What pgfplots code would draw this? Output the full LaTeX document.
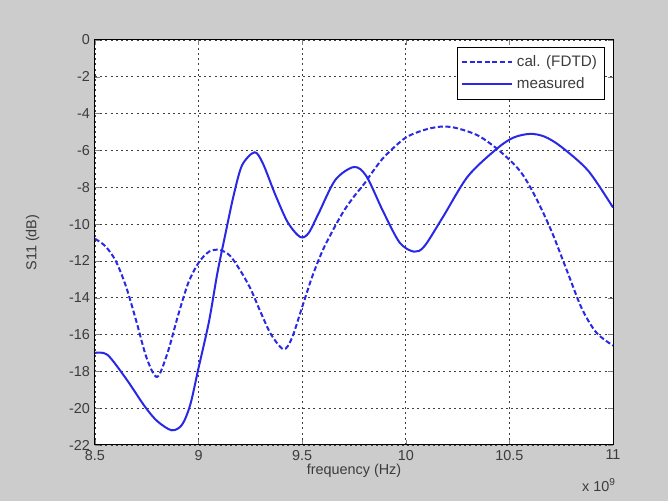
\documentclass[border=0pt]{standalone}
\usepackage{pgfplots}
\pgfplotsset{compat=1.18}
\usepackage{fontspec}
\setmainfont{Liberation Sans}
\definecolor{figbg}{RGB}{204,204,204}
\definecolor{ticktxt}{RGB}{60,60,60}
\definecolor{mblue}{RGB}{40,40,230}

\begin{document}
\begin{tikzpicture}
% grey figure background, 1px = 0.5pt
\fill[figbg] (-47.5pt,-28pt) rectangle (286.5pt,222.5pt);
\begin{axis}[
    at={(0pt,0pt)}, anchor=south west,
    scale only axis,
    width=259pt, height=202.5pt,
    xmin=8.5, xmax=11,
    ymin=-22, ymax=0,
    xtick={8.5,9,9.5,10,10.5,11},
    xticklabels={8.5,9,9.5,10,10.5,11},
    ytick={-22,-20,...,0},
    axis background/.style={fill=white},
    grid=major,
    grid style={black!75, dash pattern=on 1pt off 1.6pt, line width=0.4pt},
    tick align=inside,
    tick pos=both,
    major tick length=2.5pt,
    axis line style={black, line width=0.5pt},
    tick label style={font=\fontsize{7.2}{8.5}\selectfont, text=ticktxt},
    /pgf/number format/assume math mode=true,
    xticklabel style={yshift=1pt},
    yticklabel style={xshift=1pt},
    xlabel={frequency (Hz)},
    ylabel={S11 (dB)},
    label style={font=\fontsize{7.2}{8.5}\selectfont, text=ticktxt},
    xlabel style={yshift=5pt},
    ylabel style={yshift=8pt},
    legend style={at={(rel axis cs:0.985,0.983)}, anchor=north east,
        font=\fontsize{7.6}{9}\selectfont, text=ticktxt,
        draw=black, line width=0.4pt, inner sep=2pt, row sep=0pt,
        legend cell align=left},
    legend image code/.code={\draw[#1] (0pt,0pt) -- (25pt,0pt);},
]
\addplot[mblue, line width=1pt, dash pattern=on 2.5pt off 1.3pt, smooth, tension=0.5] coordinates {
 (8.50,-10.8) (8.55,-11.2) (8.60,-12.0) (8.65,-13.4) (8.70,-15.3)
 (8.75,-17.3) (8.80,-18.3) (8.85,-17.0) (8.90,-15.0) (8.95,-13.2)
 (9.00,-12.1) (9.05,-11.5) (9.10,-11.4) (9.15,-11.7) (9.20,-12.5)
 (9.25,-13.5) (9.30,-14.8) (9.35,-16.0) (9.41,-16.8) (9.45,-16.2)
 (9.50,-14.5) (9.55,-12.8) (9.60,-11.4) (9.65,-10.3) (9.70,-9.3)
 (9.75,-8.5) (9.80,-7.8) (9.85,-7.0) (9.90,-6.3) (10.00,-5.3)
 (10.10,-4.85) (10.18,-4.7) (10.25,-4.8) (10.35,-5.2) (10.45,-6.0)
 (10.55,-7.1) (10.62,-8.4) (10.70,-10.3) (10.78,-12.6) (10.85,-14.6)
 (10.92,-15.9) (11.00,-16.6)
};
\addlegendentry{cal. (FDTD)}
\addplot[mblue, line width=1pt, smooth, tension=0.5] coordinates {
 (8.50,-17.0) (8.56,-17.1) (8.65,-18.4) (8.74,-19.9) (8.80,-20.7)
 (8.87,-21.2) (8.92,-20.9) (8.96,-19.8) (9.00,-17.8) (9.05,-15.3)
 (9.09,-12.7) (9.13,-10.5) (9.17,-8.4) (9.21,-6.8) (9.27,-6.1)
 (9.31,-6.7) (9.37,-8.4) (9.43,-9.9) (9.49,-10.7) (9.53,-10.5)
 (9.58,-9.4) (9.66,-7.6) (9.75,-6.9) (9.81,-7.4) (9.89,-9.3)
 (9.97,-11.0) (10.04,-11.5) (10.09,-11.2) (10.18,-9.6) (10.30,-7.4)
 (10.44,-5.9) (10.52,-5.3) (10.60,-5.1) (10.67,-5.25) (10.75,-5.8)
 (10.88,-7.1) (11.00,-9.1)
};
\addlegendentry{measured}
\end{axis}
\node[font=\fontsize{7.2}{8.5}\selectfont, text=ticktxt, anchor=west] at (240pt,-20pt) {x 10\textsuperscript{9}};
\end{tikzpicture}
\end{document}
